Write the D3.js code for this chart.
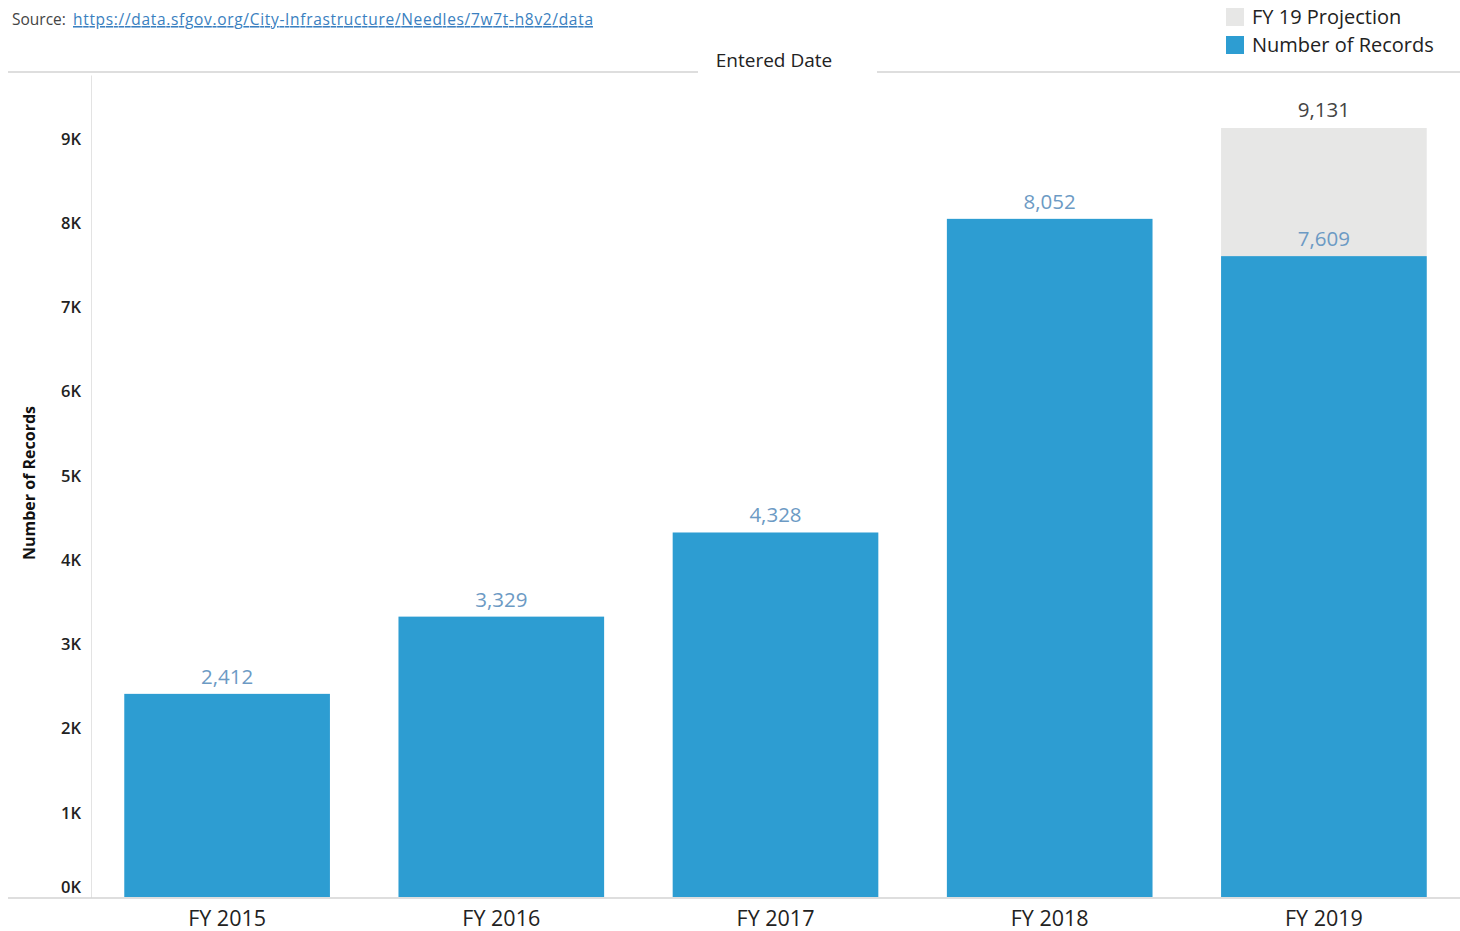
<!DOCTYPE html>
<html>
<head>
<meta charset="utf-8">
<script src="https://cdnjs.cloudflare.com/ajax/libs/d3/7.8.5/d3.min.js"></script>
<style>
  body { margin: 0; background: #fff; }
  svg { font-family: "Open Sans", "Noto Sans", sans-serif; }
</style>
</head>
<body>
<div id="chart"></div>
<script>
// Chart data
const categories = ['FY 2015', 'FY 2016', 'FY 2017', 'FY 2018', 'FY 2019'];
const records = [2412, 3329, 4328, 8052, 7609];
const projection = [null, null, null, null, 9131];
const yTicks = [0, 1000, 2000, 3000, 4000, 5000, 6000, 7000, 8000, 9000];
const legendItems = ['FY 19 Projection', 'Number of Records'];

const width = 1460, height = 931;
const colors = {
  bar: '#2d9dd2',
  projection: '#e7e7e6',
  barLabel: '#6c9ac4',
  text: '#222',
  rule: '#bdbdbd'
};

const svg = d3.select('#chart').append('svg')
  .attr('width', width)
  .attr('height', height);

// Scales
const x = d3.scaleBand()
  .domain(categories)
  .range([90, 1461])
  .paddingInner(0.25)
  .paddingOuter(0.125);

const y = d3.scaleLinear()
  .domain([0, 9760])
  .range([897, 75]);

// Source line
svg.append('text')
  .attr('x', 12).attr('y', 25)
  .attr('font-size', 15.5)
  .attr('fill', '#444')
  .text('Source:');
svg.append('text')
  .attr('x', 73).attr('y', 25)
  .attr('font-size', 15.5)
  .attr('fill', '#3a7fc0')
  .attr('text-decoration', 'underline')
  .attr('textLength', 520)
  .attr('lengthAdjust', 'spacing')
  .text('https://data.sfgov.org/City-Infrastructure/Needles/7w7t-h8v2/data');

// Header rules with column title
svg.append('line')
  .attr('x1', 8).attr('x2', 698).attr('y1', 72).attr('y2', 72)
  .attr('stroke', colors.rule);
svg.append('line')
  .attr('x1', 877).attr('x2', 1460).attr('y1', 72).attr('y2', 72)
  .attr('stroke', colors.rule);
svg.append('text')
  .attr('x', 774).attr('y', 67)
  .attr('text-anchor', 'middle')
  .attr('font-size', 19)
  .attr('font-weight', 500)
  .attr('fill', colors.text)
  .text('Entered Date');

// Legend
const legend = svg.append('g');
legendItems.forEach((name, i) => {
  legend.append('rect')
    .attr('x', 1226).attr('y', 8 + i * 28)
    .attr('width', 18).attr('height', 18)
    .attr('fill', i === 0 ? colors.projection : colors.bar);
  legend.append('text')
    .attr('x', 1252).attr('y', 24 + i * 28)
    .attr('font-size', 20)
    .attr('fill', colors.text)
    .text(name);
});

// Y axis
const yAxis = svg.append('g')
  .attr('transform', 'translate(91,0)')
  .call(d3.axisLeft(y).tickValues(yTicks).tickSize(0).tickPadding(10)
    .tickFormat(d => (d / 1000) + 'K'));
yAxis.select('.domain').attr('stroke', '#e3e3e3');
yAxis.selectAll('text')
  .attr('font-size', 16.5)
  .attr('font-weight', 600)
  .attr('fill', colors.text)
  .attr('font-family', '"Open Sans", sans-serif')
  .attr('dy', d => d === 0 ? '-0.3em' : '0.32em');

svg.append('text')
  .attr('transform', 'translate(35,483) rotate(-90)')
  .attr('text-anchor', 'middle')
  .attr('font-size', 16)
  .attr('font-weight', 700)
  .attr('fill', '#111')
  .text('Number of Records');

// Projection bars (behind)
svg.append('g').selectAll('rect')
  .data(categories.map((c, i) => ({ c, v: projection[i] })).filter(d => d.v != null))
  .join('rect')
  .attr('x', d => x(d.c))
  .attr('y', d => y(d.v))
  .attr('width', x.bandwidth())
  .attr('height', d => y(0) - y(d.v))
  .attr('fill', colors.projection);

// Record bars
svg.append('g').selectAll('rect')
  .data(categories.map((c, i) => ({ c, v: records[i] })))
  .join('rect')
  .attr('x', d => x(d.c))
  .attr('y', d => y(d.v))
  .attr('width', x.bandwidth())
  .attr('height', d => y(0) - y(d.v))
  .attr('fill', colors.bar);

// Value labels
svg.append('g').selectAll('text')
  .data(categories.map((c, i) => ({ c, v: records[i] })))
  .join('text')
  .attr('x', d => x(d.c) + x.bandwidth() / 2)
  .attr('y', d => y(d.v) - 10)
  .attr('text-anchor', 'middle')
  .attr('font-size', 20.5)
  .attr('fill', colors.barLabel)
  .text(d => d3.format(',')(d.v));

svg.append('g').selectAll('text')
  .data(categories.map((c, i) => ({ c, v: projection[i] })).filter(d => d.v != null))
  .join('text')
  .attr('x', d => x(d.c) + x.bandwidth() / 2)
  .attr('y', d => y(d.v) - 11)
  .attr('text-anchor', 'middle')
  .attr('font-size', 20.5)
  .attr('fill', '#444')
  .text(d => d3.format(',')(d.v));

// Baseline and category labels
svg.append('line')
  .attr('x1', 8).attr('x2', 1460).attr('y1', 898).attr('y2', 898)
  .attr('stroke', colors.rule);

const xAxis = svg.append('g')
  .attr('transform', 'translate(0,898)')
  .call(d3.axisBottom(x).tickSize(0).tickPadding(13));
xAxis.select('.domain').remove();
xAxis.selectAll('text')
  .attr('font-size', 21.5)
  .attr('font-weight', 500)
  .attr('fill', colors.text)
  .attr('font-family', '"Open Sans", sans-serif');
</script>
</body>
</html>
